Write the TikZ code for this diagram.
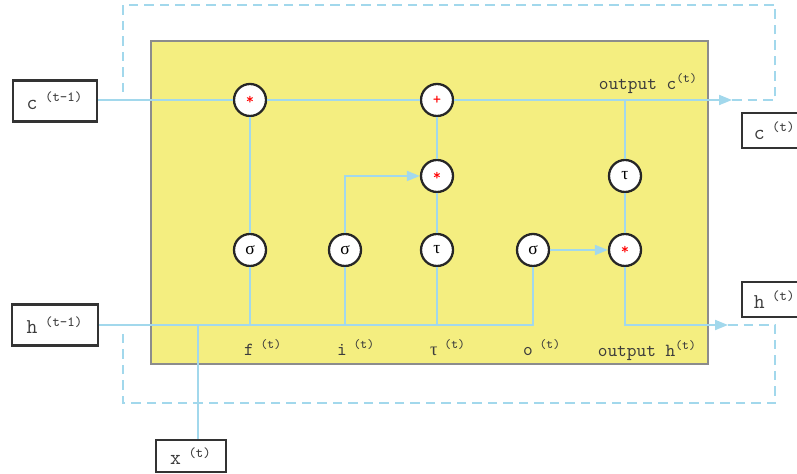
\documentclass[tikz,border=0pt]{standalone}
\usepackage{fontspec}
\usepackage{xcolor}
\newfontfamily\greekfont{Liberation Serif}
\usetikzlibrary{arrows.meta}
\definecolor{cellyellow}{RGB}{244, 238, 128}
\definecolor{wireblue}{RGB}{162, 216, 236}
\definecolor{labelgray}{RGB}{60, 60, 60}

\tikzset{
    gate/.style={circle, draw=black!85, line width=1.3pt, fill=white, minimum size=0.64cm, inner sep=0pt, font=\ttfamily\small},
    iobox/.style={draw=black!80, line width=1.3pt, fill=white, text=labelgray, font=\ttfamily\fontsize{12}{13}\selectfont, minimum height=0.82cm, inner sep=2pt},
    wire/.style={wireblue, line width=1.1pt},
    feedback/.style={wireblue, line width=1.1pt, dash pattern=on 0.19cm off 0.12cm},
    tip/.style={-{Triangle[length=0.26cm, width=0.2cm]}},
}

\begin{document}
\begin{tikzpicture}
    \useasboundingbox (0,0) rectangle (15.94,9.48);

    % Cell body
    \draw[fill=cellyellow, draw=black!45, line width=0.8pt] (3.02,2.2) rectangle (14.16,8.66);

    % Inputs and outputs
    \node[iobox, minimum width=1.68cm] (cprev) at (1.1,7.46) {c\textsuperscript{ (t-1)}};
    \node[iobox, minimum width=1.72cm] (hprev) at (1.1,2.98) {h\textsuperscript{ (t-1)}};
    \node[iobox, minimum width=1.4cm, minimum height=0.64cm] (xin) at (3.82,0.36) {x\textsuperscript{ (t)}};
    \node[iobox, minimum width=1.3cm, minimum height=0.7cm, anchor=west] (cnext) at (14.82,6.87) {c\textsuperscript{ (t)}};
    \node[iobox, minimum width=1.3cm, minimum height=0.7cm, anchor=west] (hnext) at (14.82,3.49) {h\textsuperscript{ (t)}};

    % Gates
    \node[gate] (fmul) at (5.0,7.48) {\textcolor{red}{*}};
    \node[gate] (add) at (8.74,7.48) {\textcolor{red}{+}};
    \node[gate] (imul) at (8.74,5.96) {\textcolor{red}{*}};
    \node[gate] (tanhc) at (12.5,5.96) {\greekfont\normalsize τ};
    \node[gate] (sigf) at (5.0,4.48) {\greekfont\normalsize σ};
    \node[gate] (sigi) at (6.9,4.48) {\greekfont\normalsize σ};
    \node[gate] (tanhg) at (8.74,4.48) {\greekfont\normalsize τ};
    \node[gate] (sigo) at (10.66,4.48) {\greekfont\normalsize σ};
    \node[gate] (omul) at (12.5,4.48) {\textcolor{red}{*}};

    % Taps and ends
    \coordinate (ctap) at (12.5,7.48);
    \coordinate (cout) at (14.64,7.48);
    \coordinate (hout) at (14.56,2.98);
    \coordinate (xtap) at (3.96,2.98);

    % Cell state path
    \draw[wire] (cprev.east |- fmul) -- (fmul);
    \draw[wire] (fmul) -- (add);
    \draw[wire, tip] (add) -- (cout);
    \draw[wire] (sigf) -- (fmul);
    \draw[wire, tip] (sigi) |- (imul);
    \draw[wire] (tanhg) -- (imul);
    \draw[wire] (imul) -- (add);

    % Hidden state path
    \draw[wire] (ctap) -- (tanhc);
    \draw[wire] (tanhc) -- (omul);
    \draw[wire, tip] (sigo) -- (omul);
    \draw[wire, tip] (omul) |- (hout);

    % Input bus
    \draw[wire] (hprev) -| (sigo);
    \draw[wire] (sigf |- xtap) -- (sigf);
    \draw[wire] (sigi |- xtap) -- (sigi);
    \draw[wire] (tanhg |- xtap) -- (tanhg);
    \draw[wire] (xin.north -| xtap) -- (xtap);

    % Recurrent loops
    \draw[feedback] (cout) -- (15.5,7.48) -- (15.5,9.38) -- (2.46,9.38) -- (2.46,7.62);
    \draw[feedback] (hout) -- (15.5,2.98) -- (15.5,1.42) -- (2.46,1.42) -- (2.46,2.86);

    % Labels
    \begin{scope}[text=labelgray, font=\ttfamily\fontsize{10.5}{12}\selectfont]
        \node (flab) at (5.26,2.52) {f\textsuperscript{ (t)}};
        \node (ilab) at (7.12,2.52) {i\textsuperscript{ (t)}};
        \node (glab) at (8.96,2.52) {{\greekfont τ}\textsuperscript{ (t)}};
        \node (olab) at (10.84,2.52) {o\textsuperscript{ (t)}};
        \node[anchor=east] (clab) at (14.08,7.8) {output c\textsuperscript{(t)}};
        \node[anchor=east] (hlab) at (14.06,2.46) {output h\textsuperscript{(t)}};
    \end{scope}
\end{tikzpicture}
\end{document}
